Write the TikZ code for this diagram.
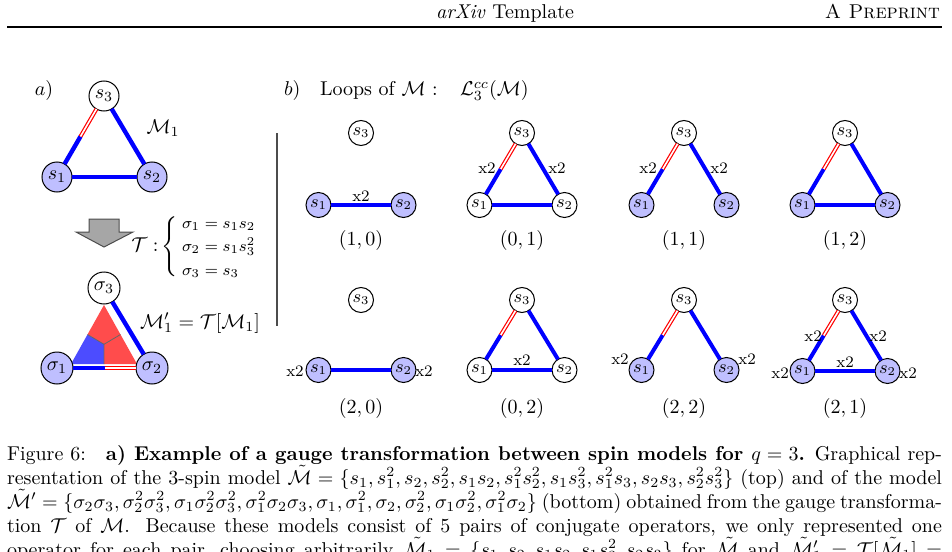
\documentclass[tikz,border=0pt]{standalone}
\usetikzlibrary{calc}
\usepackage{amsmath,amssymb}
\newcommand\sg[5]{%
  \node[#4] (#1a) at ({#2-42.5},#3) {$s_1$};
  \node[#4] (#1b) at ({#2+42.5},#3) {$s_2$};
  \node[snode] (#1c) at (#2,{#3-#5}) {$s_3$};}
\newcommand\halfedge[3]{%
  \draw[#3] (#1) -- ($(#1)!0.5!(#2)$);
  \draw[redge] ($(#1)!0.5!(#2)$) -- (#2);}
\begin{document}
\begin{tikzpicture}[x=0.5pt,y=-0.5pt,
  every node/.style={inner sep=0pt, outer sep=0pt},
  bnode/.style={circle,draw,line width=0.5pt,fill=white,minimum size=15pt,inner sep=0pt},
  bfill/.style={bnode,fill=blue!25},
  tnode/.style={bnode,minimum size=16pt},
  tfill/.style={tnode,fill=blue!25},
  snode/.style={circle,draw,line width=0.5pt,fill=white,minimum size=12.5pt,inner sep=0pt,font=\small},
  sfill/.style={snode,fill=blue!25},
  bedge/.style={draw=blue,line width=2.2pt},
  sedge/.style={draw=blue,line width=2pt},
  redge/.style={draw=red,double=white,double distance=0.8pt,line width=0.6pt},
  xlab/.style={font=\footnotesize},
  capline/.style={anchor=base west},
]
\useasboundingbox (0,0) rectangle (952,551);
\clip (0,0) rectangle (952,551);
% header
\node[anchor=base] (hd) at (505,19) {\textit{arXiv} Template};
\node[anchor=base east] (hp) at (940,19) {\textsc{A Preprint}};
\coordinate (rl) at (7,27);
\coordinate (rr) at (942,27);
\draw[line width=0.6pt] (rl) -- (rr);

% ---------- panel a
\node (la) at (44,91) {$a)$};
\node[bnode] (s3) at (104,96) {$s_3$};
\node[bfill] (s1) at (57,177) {$s_1$};
\node[bfill] (s2) at (152,177) {$s_2$};
\draw[bedge] (s1) -- (s2);
\draw[bedge] (s3) -- (s2);
\halfedge{s1}{s3}{bedge}
\node (m1) at (163,128) {$\mathcal{M}_1$};

\draw[fill=gray!70, draw=black!70, line width=0.5pt] (89,219) -- (119,219) -- (119,232) -- (133,232) -- (104,247) -- (76,232) -- (89,232) -- cycle;
\node (tt) at (145,245) {$\mathcal{T}:$};
\node (br) at (171,247) {$\left\{\rule[-12.5pt]{0pt}{25pt}\right.$};
\node[anchor=base west,font=\footnotesize] (e1) at (182,228) {$\sigma_1 = s_1s_2$};
\node[anchor=base west,font=\footnotesize] (e2) at (182,251) {$\sigma_2 = s_1s_3^2$};
\node[anchor=base west,font=\footnotesize] (e3) at (182,275) {$\sigma_3 = s_3$};

% triangle regions
\coordinate (A) at (104,305);
\coordinate (B) at (71,364);
\coordinate (C) at (137,364);
\coordinate (G) at (104,344.3);
\coordinate (mAB) at (87.5,334.5);
\coordinate (mAC) at (120.5,334.5);
\coordinate (mBC) at (104,364);
\fill[red!70] (A) -- (mAB) -- (G) -- (mAC) -- cycle;
\fill[blue!70] (B) -- (mBC) -- (G) -- (mAB) -- cycle;
\fill[red!70] (C) -- (mAC) -- (G) -- (mBC) -- cycle;
\draw[black!60,line width=0.4pt] (mAB) -- (G) -- (mAC) (G) -- (mBC);

\node[tnode] (t3) at (104,288) {$\sigma_3$};
\node[tfill] (t1) at (57,368) {$\sigma_1$};
\node[tfill] (t2) at (152,368) {$\sigma_2$};
\draw[bedge] (t3) -- (t2);
\halfedge{t1}{t2}{bedge}
\node (m2) at (200,323) {$\mathcal{M}'_1 = \mathcal{T}[\mathcal{M}_1]$};

\draw[line width=0.6pt, black!70] (277,133) -- (277,326);

% ---------- panel b
\node[anchor=base west] (lb) at (284,96) {$b)$};
\node[anchor=base west] (lt) at (320,96) {Loops of $\mathcal{M}$ :};
\node[anchor=base west] (ll) at (460,96) {$\mathcal{L}_3^{cc}(\mathcal{M})$};

% (1,0)
\sg{A}{361}{205}{sfill}{72}
\draw[sedge] (Aa) -- (Ab);
\node[xlab] at (361,196) {x2};
\node (cA) at (361,240) {$(1,0)$};
% (0,1)
\sg{B}{522}{205}{snode}{72}
\draw[sedge] (Ba) -- (Bb);
\draw[sedge] (Bc) -- (Bb);
\halfedge{Ba}{Bc}{sedge}
\node[xlab] at (487,168) {x2};
\node[xlab] at (557,168) {x2};
\node (cB) at (522,240) {$(0,1)$};
% (1,1)
\sg{C}{684}{205}{sfill}{72}
\draw[sedge] (Cc) -- (Cb);
\halfedge{Ca}{Cc}{sedge}
\node[xlab] at (648,168) {x2};
\node[xlab] at (719,168) {x2};
\node (cC) at (684,240) {$(1,1)$};
% (1,2)
\sg{D}{845}{205}{sfill}{72}
\draw[sedge] (Da) -- (Db);
\draw[sedge] (Dc) -- (Db);
\halfedge{Da}{Dc}{sedge}
\node (cD) at (845,240) {$(1,2)$};
% (2,0)
\sg{E}{361}{370}{sfill}{70}
\draw[sedge] (Ea) -- (Eb);
\node[xlab] at (295,371) {x2};
\node[xlab] at (424,371) {x2};
\node (cE) at (361,408) {$(2,0)$};
% (0,2)
\sg{F}{522}{370}{snode}{70}
\draw[sedge] (Fa) -- (Fb);
\draw[sedge] (Fc) -- (Fb);
\halfedge{Fa}{Fc}{sedge}
\node[xlab] at (522,360) {x2};
\node (cF) at (522,408) {$(0,2)$};
% (2,2)
\sg{G}{684}{370}{sfill}{70}
\draw[sedge] (Gc) -- (Gb);
\halfedge{Ga}{Gc}{sedge}
\node[xlab] at (620,359) {x2};
\node[xlab] at (747,359) {x2};
\node (cG) at (684,408) {$(2,2)$};
% (2,1)
\sg{H}{845}{371}{sfill}{71}
\draw[sedge] (Ha) -- (Hb);
\draw[sedge] (Hc) -- (Hb);
\halfedge{Ha}{Hc}{sedge}
\node[xlab] at (813,336) {x2};
\node[xlab] at (878,336) {x2};
\node[xlab] at (845,362) {x2};
\node[xlab] at (780,373) {x2};
\node[xlab] at (908,373) {x2};
\node (cH) at (845,408) {$(2,1)$};

% ---------- caption
\node[capline] (c1) at (7,460) {\makebox[467.5pt][s]{Figure 6:\quad\textbf{a) Example of a gauge transformation between spin models for $q=3$.} Graphical rep-}};
\node[capline] (c2) at (7,484) {\makebox[467.5pt][s]{resentation of the 3-spin model $\tilde{\mathcal{M}}=\{s_1,s_1^2,s_2,s_2^2,s_1s_2,s_1^2s_2^2,s_1s_3^2,s_1^2s_3,s_2s_3,s_2^2s_3^2\}$ (top) and of the model}};
\node[capline] (c3) at (7,508) {\makebox[467.5pt][s]{$\tilde{\mathcal{M}}'=\{\sigma_2\sigma_3,\sigma_2^2\sigma_3^2,\sigma_1\sigma_2^2\sigma_3^2,\sigma_1^2\sigma_2\sigma_3,\sigma_1,\sigma_1^2,\sigma_2,\sigma_2^2,\sigma_1\sigma_2^2,\sigma_1^2\sigma_2\}$ (bottom) obtained from the gauge transforma-}};
\node[capline] (c4) at (7,532) {\makebox[467.5pt][s]{tion $\mathcal{T}$ of $\mathcal{M}$. Because these models consist of 5 pairs of conjugate operators, we only represented one}};
\node[capline] (c5) at (7,556) {\makebox[467.5pt][s]{operator for each pair, choosing arbitrarily $\tilde{\mathcal{M}}_1=\{s_1,s_2,s_1s_2,s_1s_3^2,s_2s_3\}$ for $\tilde{\mathcal{M}}$ and $\tilde{\mathcal{M}}'_1=\mathcal{T}[\tilde{\mathcal{M}}_1]=$}};
\end{tikzpicture}
\end{document}
